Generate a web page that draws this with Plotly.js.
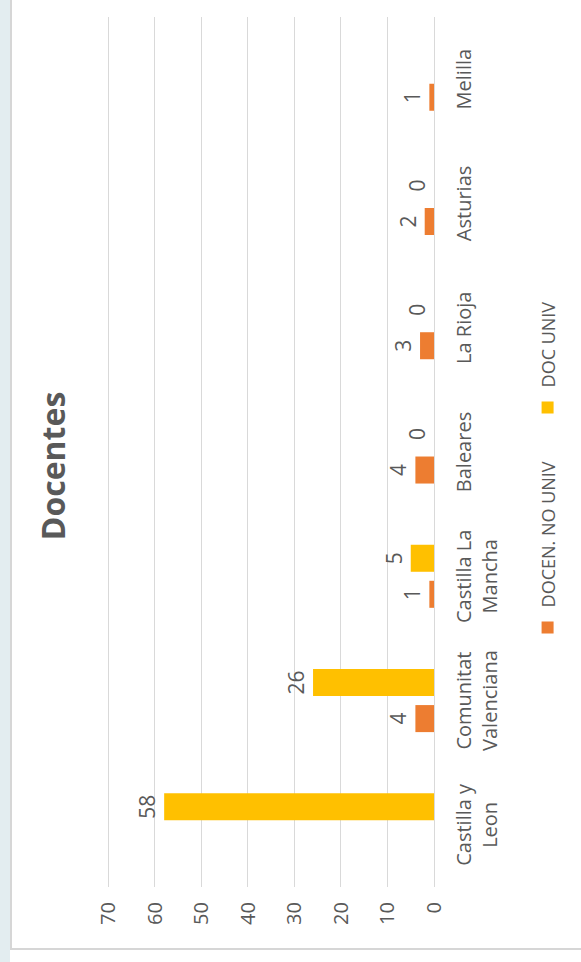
<!DOCTYPE html>
<html>
<head>
<meta charset="utf-8">
<script src="https://cdn.plot.ly/plotly-3.0.1.min.js"></script>
<style>
  html, body { margin: 0; padding: 0; width: 581px; height: 962px; overflow: hidden; background: #ffffff; }
  #wrap { position: absolute; left: 0; top: 0; width: 962px; height: 581px;
          transform-origin: 0 0; transform: translateY(962px) rotate(-90deg); background: #ffffff; }
  #strip { position: absolute; left: 0; top: 0; width: 962px; height: 10px; background: #e3edf0; }
  #frame { position: absolute; left: 12px; top: 10px; right: -2px; bottom: -2px;
           border-left: 2px solid #d6d6d6; border-top: 2px solid #d6d6d6; background: #ffffff; }
  #chart { position: absolute; left: 0; top: 0; width: 962px; height: 581px; }
</style>
</head>
<body>
<div id="wrap">
  <div id="strip"></div>
  <div id="frame"></div>
  <div id="chart"></div>
</div>
<script>
const categories = ["Castilla y<br>Leon", "Comunitat<br>Valenciana", "Castilla La<br>Mancha", "Baleares", "La Rioja", "Asturias", "Melilla"];
const seriesNames = ["DOCEN. NO UNIV", "DOC UNIV"];
const docenNoUniv = [null, 4, 1, 4, 3, 2, 1];
const docUniv = [58, 26, 5, 0, 0, 0, null];
const valueTicks = [0, 10, 20, 30, 40, 50, 60, 70];
const chartTitle = "Docentes";

const txtColor = "#595959";
const font = "Open Sans, sans-serif";

function labels(arr) { return arr.map(v => (v === null ? "" : String(v))); }

const traces = [
  {
    type: "bar", name: seriesNames[0], x: categories, y: docenNoUniv,
    marker: { color: "#ED7D31" },
    text: labels(docenNoUniv), textposition: "outside", textangle: 0,
    constraintext: "none", cliponaxis: false,
    textfont: { family: font, size: 21, color: txtColor }, hoverinfo: "none"
  },
  {
    type: "bar", name: seriesNames[1], x: categories, y: docUniv,
    marker: { color: "#FFC000" },
    text: labels(docUniv), textposition: "outside", textangle: 0,
    constraintext: "none", cliponaxis: false,
    textfont: { family: font, size: 21, color: txtColor }, hoverinfo: "none"
  }
];

const layout = {
  width: 962, height: 581,
  margin: { l: 75, r: 17, t: 106, b: 147 },
  paper_bgcolor: "rgba(0,0,0,0)", plot_bgcolor: "rgba(0,0,0,0)",
  font: { family: font, color: txtColor },
  title: { text: "<b>" + chartTitle + "</b>", font: { family: font, size: 32, color: txtColor },
           x: 0.5156, xanchor: "center", xref: "container", y: 0.907, yanchor: "middle", yref: "container" },
  barmode: "group", bargap: 0.42, bargroupgap: 0.25,
  showlegend: true,
  legend: { orientation: "h", x: 0.327, xanchor: "left", y: 0.057, yanchor: "middle",
            xref: "container", yref: "container", entrywidth: 175, entrywidthmode: "pixels",
            font: { family: font, size: 18, color: txtColor }, bgcolor: "rgba(0,0,0,0)" },
  xaxis: { type: "category", showgrid: false, showline: false, zeroline: false, ticks: "",
           tickfont: { family: font, size: 20, color: txtColor }, ticklabelstandoff: 16, tickangle: 0 },
  yaxis: { range: [0, 70.5], tickvals: valueTicks, showgrid: true, gridcolor: "#d9d9d9", gridwidth: 1,
           zeroline: true, zerolinecolor: "#d9d9d9", zerolinewidth: 1, showline: false, ticks: "",
           tickfont: { family: font, size: 20, color: txtColor }, ticklabelstandoff: 14 }
};

Plotly.newPlot("chart", traces, layout, { staticPlot: true, displayModeBar: false });
</script>
</body>
</html>
